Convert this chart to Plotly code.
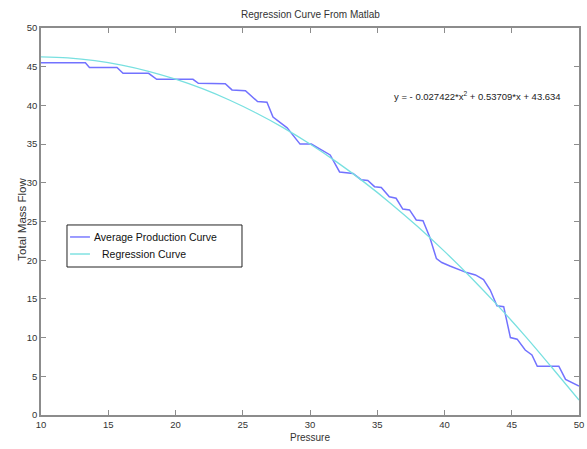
import plotly.graph_objects as go

# Average production curve
avg_pressure = [10, 13.3, 13.6, 15.65, 16.1, 18.0, 18.6, 21.3, 21.7, 23.7, 24.2, 25.2, 26.1, 26.8,
                27.25, 28.3, 29.26, 30.1, 31.5, 32.2, 33.2, 33.8, 34.3, 34.8, 35.3, 35.9, 36.4,
                36.9, 37.4, 37.9, 38.4, 38.9, 39.4, 39.8, 40.4, 41.0, 41.65, 42.3, 42.9, 43.4,
                43.9, 44.4, 44.9, 45.4, 46.0, 46.5, 46.9, 48.5, 49.0, 50.0]
avg_flow = [45.5, 45.5, 44.9, 44.9, 44.15, 44.15, 43.37, 43.37, 42.85, 42.8, 42.0, 41.9, 40.5, 40.4,
            38.5, 37.1, 35.0, 35.0, 33.6, 31.4, 31.2, 30.4, 30.3, 29.5, 29.4, 28.2, 28.0,
            26.6, 26.5, 25.2, 25.1, 23.0, 20.2, 19.7, 19.25, 18.8, 18.4, 18.1, 17.5, 16.15,
            14.1, 14.0, 10.0, 9.8, 8.4, 7.75, 6.3, 6.3, 4.6, 3.75]

# Regression curve
reg_pressure = [10, 12, 14, 16, 18, 20, 22, 24, 26, 28, 30, 32, 34, 36, 38, 40, 42, 44, 46, 48, 50]
reg_flow = [46.26, 46.13, 45.78, 45.21, 44.41, 43.39, 42.16, 40.70, 39.02, 37.13, 35.01, 32.67,
            30.12, 27.34, 24.35, 21.14, 17.71, 14.06, 10.19, 6.10, 1.93]

x_ticks = [10, 15, 20, 25, 30, 35, 40, 45, 50]
y_ticks = [0, 5, 10, 15, 20, 25, 30, 35, 40, 45, 50]

series_names = ["Average Production Curve", "Regression Curve"]
series_colors = ["#7272ff", "#78e0e0"]

FONT = "Liberation Sans, Arial, sans-serif"
TXT = "#333333"

fig = go.Figure()
fig.add_trace(go.Scatter(x=avg_pressure, y=avg_flow, mode="lines",
                         name=series_names[0], showlegend=False,
                         line=dict(color=series_colors[0], width=1.5)))
fig.add_trace(go.Scatter(x=reg_pressure, y=reg_flow, mode="lines",
                         name=series_names[1], showlegend=False,
                         line=dict(color=series_colors[1], width=1.3, shape="spline")))

# Equation text
fig.add_annotation(x=0.652, y=0.824, xref="paper", yref="paper", xanchor="left", yanchor="middle",
                   text="y = - 0.027422*x<sup>2</sup> + 0.53709*x + 43.634",
                   showarrow=False, font=dict(family=FONT, size=9.5, color="#222"))

# Title and axis titles
fig.add_annotation(x=0.5, y=1.034, xref="paper", yref="paper", xanchor="center", yanchor="middle",
                   text="Regression Curve From Matlab", showarrow=False,
                   font=dict(family=FONT, size=10, color=TXT))
fig.add_annotation(x=0.5, y=-0.058, xref="paper", yref="paper", xanchor="center", yanchor="middle",
                   text="Pressure", showarrow=False,
                   font=dict(family=FONT, size=10, color=TXT))
fig.add_annotation(x=-0.037, y=0.505, xref="paper", yref="paper", xanchor="center", yanchor="middle",
                   text="Total Mass Flow", showarrow=False, textangle=-90,
                   font=dict(family=FONT, size=11.5, color=TXT))

# Custom legend (box, line samples, labels)
fig.add_shape(type="rect", xref="paper", yref="paper", x0=0.0483, x1=0.3736, y0=0.3824, y1=0.491,
              line=dict(color="#222", width=1), fillcolor="white", layer="above")
legend_rows_y = [0.460, 0.416]
legend_text_x = [0.0948, 0.1097]
for i in range(2):
    fig.add_shape(type="line", xref="paper", yref="paper", x0=0.054, x1=0.091,
                  y0=legend_rows_y[i], y1=legend_rows_y[i],
                  line=dict(color=series_colors[i], width=1.4), layer="above")
    fig.add_annotation(x=legend_text_x[i], y=legend_rows_y[i], xref="paper", yref="paper",
                       xanchor="left", yanchor="middle", text=series_names[i], showarrow=False,
                       font=dict(family=FONT, size=10.5, color="#111"))

axis_common = dict(showgrid=False, zeroline=False, showline=True, mirror="ticks",
                   linecolor="#8c8c8c", linewidth=1.5, ticks="inside", ticklen=5,
                   tickcolor="#8c8c8c", tickfont=dict(family=FONT, size=9.5, color=TXT),
                   automargin=False)

fig.update_xaxes(range=[10, 50], tickvals=x_ticks, ticktext=[str(v) for v in x_ticks],
                 ticklabelstandoff=0, **axis_common)
fig.update_yaxes(range=[0, 50], tickvals=y_ticks, ticktext=[str(v) for v in y_ticks],
                 ticklabelstandoff=0, **axis_common)

fig.update_layout(
    width=587, height=449,
    margin=dict(l=41, r=8, t=28, b=34),
    paper_bgcolor="white", plot_bgcolor="white",
    showlegend=False,
)

# Remove the default page margin so the figure fills the 587x449 window exactly
fig.write_html("out.html",
               config={"displayModeBar": False},
               post_script="document.body.style.margin='0';document.body.style.overflow='hidden';")
